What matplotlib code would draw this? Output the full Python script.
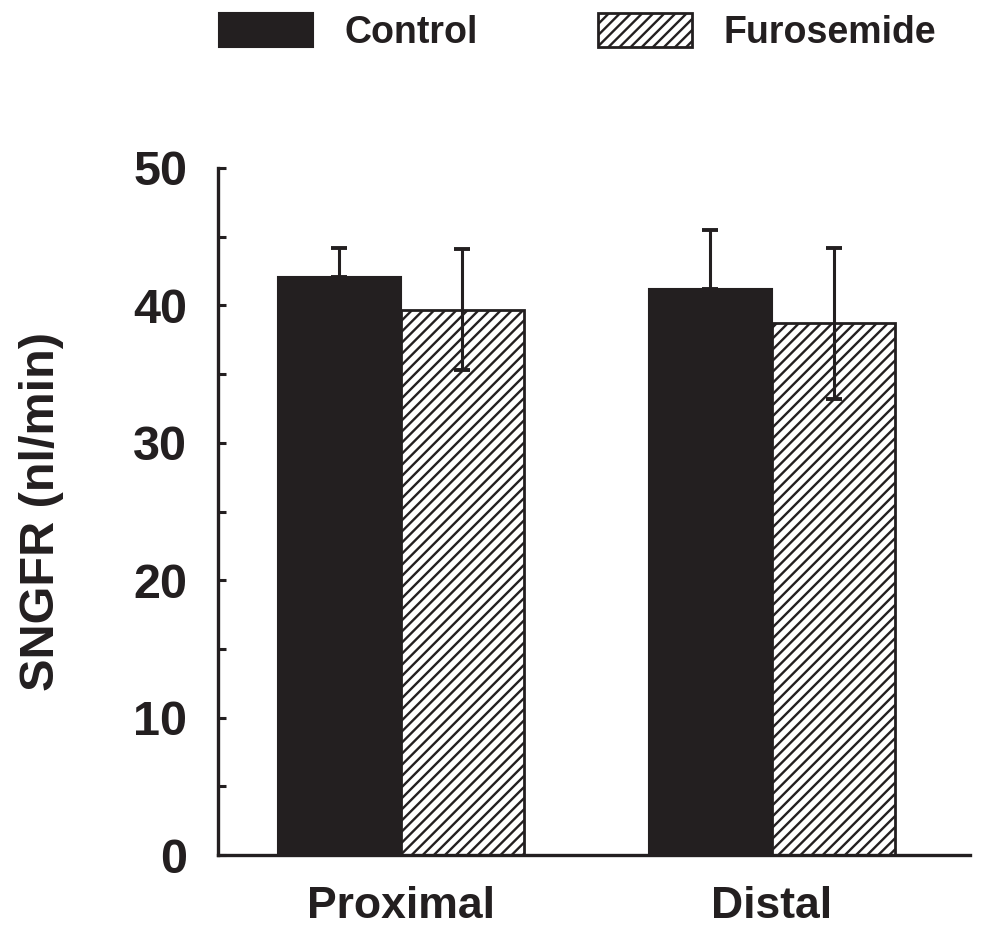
import numpy as np
import matplotlib
matplotlib.use("Agg")
import matplotlib.pyplot as plt
from matplotlib.ticker import MultipleLocator

# données
sites = ["Proximal", "Distal"]
control = [42.1, 41.2]
control_err = [2.1, 4.3]
furosemide = [39.7, 38.7]
furosemide_err = [4.4, 5.5]

ink = "#231f20"
plt.rcParams['font.family'] = ['Liberation Sans', 'DejaVu Sans']
plt.rcParams['font.weight'] = 'bold'
plt.rcParams['hatch.linewidth'] = 1.7
plt.rcParams['hatch.color'] = ink

fig = plt.figure(figsize=(9.86, 9.40), dpi=100)
ax = fig.add_axes([0.221, 0.0904, 0.763, 0.7309])

x = np.arange(len(sites))
w = 0.332

b1 = ax.bar(x - w/2, control, w, color=ink, edgecolor=ink, linewidth=1.5,
            label="Control", zorder=2)
b2 = ax.bar(x + w/2, furosemide, w, color="white", edgecolor=ink, hatch="///",
            linewidth=2.0, label="Furosemide", zorder=2)

# barres d'erreur : vers le haut seulement pour le contrôle
ax.errorbar(x - w/2, control, yerr=[np.zeros(len(sites)), control_err],
            fmt="none", ecolor=ink, elinewidth=2.2, capsize=6, capthick=2.8, zorder=3)
ax.errorbar(x + w/2, furosemide, yerr=furosemide_err,
            fmt="none", ecolor=ink, elinewidth=2.2, capsize=6, capthick=2.8, zorder=3)

ax.set_xlim(-0.493, 1.534)
ax.set_ylim(0, 50)
ax.set_xticks(x)
ax.set_xticklabels(sites, fontsize=32, fontweight="bold")
ax.yaxis.set_major_locator(MultipleLocator(10))
ax.yaxis.set_minor_locator(MultipleLocator(5))
for lbl in ax.get_yticklabels():
    lbl.set_fontsize(35)
    lbl.set_fontweight("bold")

ax.tick_params(axis="y", which="both", direction="in", length=6, width=2.2,
               color=ink, pad=22, labelcolor=ink)
ax.tick_params(axis="x", length=0, pad=22, labelcolor=ink)

for s in ["top", "right"]:
    ax.spines[s].set_visible(False)
for s in ["left", "bottom"]:
    ax.spines[s].set_linewidth(2.4)
    ax.spines[s].set_color(ink)

ax.set_ylabel("SNGFR (nl/min)", fontsize=35, fontweight="bold", color=ink)
ax.yaxis.set_label_coords(-0.205, 0.5)

fig.legend(handles=[b1, b2], loc="upper left", bbox_to_anchor=(0.222, 0.986),
           ncol=2, frameon=False, fontsize=27, handlelength=2.5,
           handleheight=1.0, handletextpad=0.85, columnspacing=3.2,
           borderpad=0, borderaxespad=0, labelcolor=ink)

fig.savefig("out.png", dpi=100)
